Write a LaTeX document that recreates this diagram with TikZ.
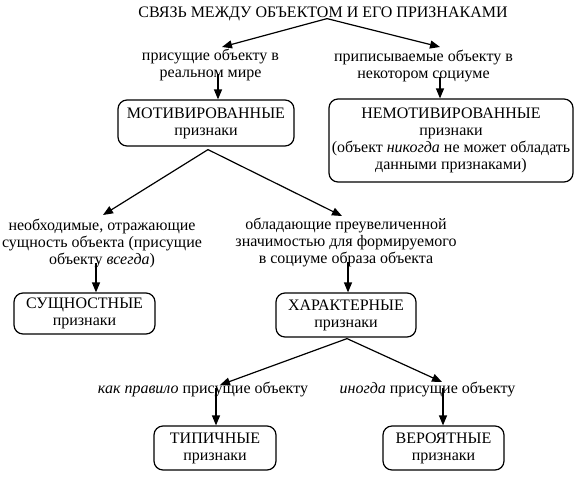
\documentclass[tikz,border=0pt]{standalone}
\usepackage{fontspec}
\setmainfont{Liberation Serif}
\usetikzlibrary{arrows.meta}
\begin{document}
\begin{tikzpicture}[x=1pt,y=-1pt,
  arr/.style={-{Triangle[length=10pt,width=8pt]},line width=1.2pt},
  box/.style={draw,line width=1.2pt,rounded corners=9pt,align=center,inner sep=0pt},
  lab/.style={align=center,inner sep=0pt,font=\fontsize{16}{17}\selectfont},
  bigcaps/.style={font=\fontsize{16}{16}\selectfont},
]
\newcommand\capline[1]{{\fontsize{16}{17}\selectfont #1}}
\newcommand\lowline[1]{{\fontsize{16}{17}\selectfont #1}}
\useasboundingbox (0,0) rectangle (584,483);
% title
\node[bigcaps,inner sep=0pt,anchor=base] (title) at (323,17) {СВЯЗЬ МЕЖДУ ОБЪЕКТОМ И ЕГО ПРИЗНАКАМИ};
% level 1 labels
\node[lab] (l1) at (210.5,65) {присущие объекту в\\реальном мире};
\node[lab] (l2) at (423.5,66) {приписываемые объекту в\\некотором социуме};
% level 1 boxes
\node[box,minimum width=176pt,minimum height=46pt,font=\fontsize{16}{17}\selectfont] (mot) at (206,123) {\capline{МОТИВИРОВАННЫЕ}\\\lowline{признаки}};
\node[box,minimum width=244pt,minimum height=83pt,font=\fontsize{16}{17}\selectfont] (nem) at (451,140.5) {\capline{НЕМОТИВИРОВАННЫЕ}\\признаки\\(объект \textit{никогда} не может обладать\\данными признаками)};
% level 2 labels
\node[lab] (l3) at (102,243.5) {необходимые, отражающие\\сущность объекта (присущие\\объекту \textit{всегда})};
\node[lab] (l4) at (346,242.5) {обладающие преувеличенной\\значимостью для формируемого\\в социуме образа объекта};
% level 2 boxes
\node[box,minimum width=141pt,minimum height=41pt,font=\fontsize{16}{17}\selectfont] (sush) at (84.5,313.5) {\capline{СУЩНОСТНЫЕ}\\\lowline{признаки}};
\node[box,minimum width=140pt,minimum height=44pt,font=\fontsize{16}{17}\selectfont] (har) at (346,315) {\capline{ХАРАКТЕРНЫЕ}\\\lowline{признаки}};
% level 3 labels
\node[lab,anchor=base] (l5) at (203,393) {\textit{как правило} присущие объекту};
\node[lab,anchor=base] (l6) at (427.5,393) {\textit{иногда} присущие объекту};
% level 3 boxes
\node[box,minimum width=122pt,minimum height=44pt,font=\fontsize{16}{17}\selectfont] (tip) at (215,448) {\capline{ТИПИЧНЫЕ}\\\lowline{признаки}};
\node[box,minimum width=121pt,minimum height=44pt,font=\fontsize{16}{17}\selectfont] (ver) at (443.5,448) {\capline{ВЕРОЯТНЫЕ}\\\lowline{признаки}};
% arrow tips and starts
\coordinate (t1) at (222,47);
\coordinate (t2) at (440,47);
\coordinate (t3) at (103,215);
\coordinate (t4) at (342,216);
\coordinate (t5) at (220,385);
\coordinate (t6) at (442,382);
\coordinate (v1) at (218,74);
\coordinate (v2) at (440,77);
\coordinate (v3) at (96,263);
\coordinate (v4) at (348,262);
\coordinate (v5) at (216,388);
\coordinate (v6) at (443,388);
% connectors
\draw[arr] ([xshift=4pt,yshift=2pt]title.south) -- (t1);
\draw[arr] ([xshift=4pt,yshift=2pt]title.south) -- (t2);
\draw[arr] (v1) -- (v1 |- mot.north);
\draw[arr] (v2) -- (v2 |- nem.north);
\draw[arr] ([xshift=2pt,yshift=-3pt]mot.south) -- (t3);
\draw[arr] ([xshift=2pt,yshift=-3pt]mot.south) -- (t4);
\draw[arr] (v3) -- (v3 |- sush.north);
\draw[arr] (v4) -- (v4 |- har.north);
\draw[arr] ([xshift=1pt,yshift=-1pt]har.south) -- (t5);
\draw[arr] ([xshift=1pt,yshift=-1pt]har.south) -- (t6);
\draw[arr] (v5) -- (v5 |- tip.north);
\draw[arr] (v6) -- (v6 |- ver.north);
\end{tikzpicture}
\end{document}
